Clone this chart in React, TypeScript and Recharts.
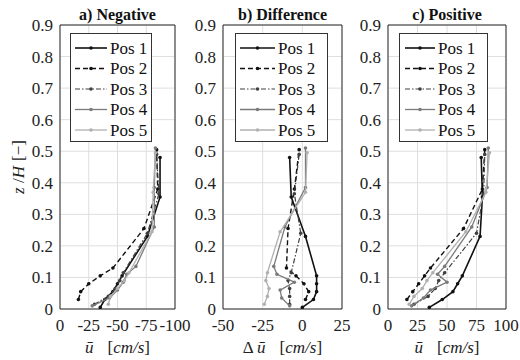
import React from 'react';
import { ScatterChart, Scatter, XAxis, YAxis, CartesianGrid, ReferenceArea, Legend } from 'recharts';

// ---------- data ----------
const seriesNames = ['Pos 1', 'Pos 2', 'Pos 3', 'Pos 4', 'Pos 5'];
const zTicks = [0, 0.1, 0.2, 0.3, 0.4, 0.5, 0.6, 0.7, 0.8, 0.9];
const negTicks = [0, -25, -50, -75, -100];
const diffTicks = [-50, -25, 0, 25];
const posTicks = [0, 25, 50, 75, 100];

const z1 = [0.005, 0.03, 0.055, 0.08, 0.105, 0.23, 0.355, 0.48];
const neg1 = [-35, -39, -46, -50, -54, -76, -87, -87];
const diff1 = [0, 7, 9, 9, 9, 2, -7, -8];
const pos1 = [35, 46, 55, 59, 63, 78, 80, 79];

const z2 = [0.03, 0.055, 0.08, 0.105, 0.13, 0.255, 0.38, 0.505];
const neg2 = [-16, -18, -25, -35, -46, -73, -85, -84];
const diff2 = [2, 4, 1, -4, -10, -9, -5, -2];
const pos2 = [16, 21, 26, 31, 36, 64, 80, 82];

const z3 = [0.015, 0.04, 0.065, 0.09, 0.115, 0.24, 0.365, 0.49];
const neg3 = [-30, -42, -48, -52, -55, -76, -86, -84];
const diff3 = [-8, -8, -8, -9, -7, -1, -5, -2];
const pos3 = [22, 34, 40, 43, 48, 75, 81, 82];

const z4 = [0.01, 0.035, 0.06, 0.085, 0.11, 0.135, 0.26, 0.385, 0.51];
const neg4 = [-28, -43, -50, -55, -58, -66, -82, -82, -83];
const diff4 = [-8, -13, -14, -5, -16, -18, -11, 2, 2];
const pos4 = [20, 30, 36, 50, 42, 48, 71, 84, 85];

const z5 = [0.015, 0.04, 0.065, 0.09, 0.115, 0.245, 0.37, 0.495];
const neg5 = [-42, -44, -50, -56, -60, -80, -81, -83];
const diff5 = [-24, -22, -21, -23, -22, -14, 2, 3];
const pos5 = [18, 22, 29, 33, 38, 66, 83, 86];

const zs = [z1, z2, z3, z4, z5];
const negVals = [neg1, neg2, neg3, neg4, neg5];
const diffVals = [diff1, diff2, diff3, diff4, diff5];
const posVals = [pos1, pos2, pos3, pos4, pos5];

// ---------- styles ----------
const FONT = 'Liberation Serif, Times New Roman, serif';
const STYLES = [
  { color: '#111111', width: 1.6, dash: undefined as string | undefined },
  { color: '#111111', width: 1.4, dash: '5 3' },
  { color: '#404040', width: 1.2, dash: '5 2 1.5 2' },
  { color: '#7a7a7a', width: 1.3, dash: undefined },
  { color: '#b0b0b0', width: 1.3, dash: undefined },
];

const toPts = (z: number[], v: number[]) => z.map((zz, i) => ({ x: v[i], y: zz }));

function LegendBox({ w, s0, s1, tx }: { w: number; s0: number; s1: number; tx: number }) {
  const h = 109;
  return (
    <svg width={w} height={h} style={{ display: 'block', fontFamily: FONT }}>
      <rect x={0.5} y={0.5} width={w - 1} height={h - 1} fill="#fff" stroke="#333" strokeWidth={1} />
      {STYLES.map((s, i) => {
        const y = 15 + i * 20.5;
        return (
          <g key={i}>
            <line x1={s0} x2={s1} y1={y} y2={y} stroke={s.color} strokeWidth={s.width} strokeDasharray={s.dash} />
            <circle cx={(s0 + s1) / 2} cy={y} r={1.8} fill={s.color} />
            <text x={tx} y={y} dy="0.35em" style={{ fontFamily: FONT }} fontSize={17} fill="#111">
              {seriesNames[i]}
            </text>
          </g>
        );
      })}
    </svg>
  );
}

type PanelProps = {
  title: string;
  ticks: number[];
  domain: [number, number];
  reversed?: boolean;
  vals: number[][];
  left: number;
  right: number;
  delta?: boolean;
  yLabel?: boolean;
  legend: { left: number; w: number; s0: number; s1: number; tx: number };
};

const TOP = 25;
const BOTTOM = 309;
const blank = () => '';

function Panel(p: PanelProps) {
  const cx = (p.left + p.right) / 2;
  const xLabel = () => (
    <text x={cx} y={353} textAnchor="middle" style={{ fontFamily: FONT }} fontSize={17} fill="#222">
      {p.delta ? <tspan>Δ </tspan> : null}
      <tspan fontStyle="italic">ū</tspan>
      <tspan dx={14}>[</tspan>
      <tspan fontStyle="italic">cm/s</tspan>
      <tspan>]</tspan>
    </text>
  );
  const yLab = () => {
    const x = 18;
    const y = (TOP + BOTTOM) / 2;
    return (
      <text x={x} y={y} dy="0.35em" textAnchor="middle" transform={`rotate(-90 ${x} ${y})`} style={{ fontFamily: FONT }} fontSize={17} fill="#222">
        <tspan fontStyle="italic">z</tspan>
        <tspan> /</tspan>
        <tspan fontStyle="italic">H</tspan>
        <tspan dx={5}>[−]</tspan>
      </text>
    );
  };
  const tickStyle = { fontFamily: FONT, fontSize: 17, fill: '#222', style: { fontFamily: FONT } };
  const innerTick = { stroke: '#2a2a2a', strokeWidth: 1 };
  return (
    <div style={{ position: 'absolute', left: 0, top: 0 }}>
      <ScatterChart
        width={520}
        height={360}
        margin={{ left: p.left - 40, right: 520 - p.right, top: TOP, bottom: 360 - BOTTOM - 30 }}
      >
        <CartesianGrid stroke="#dedede" strokeWidth={1} />
        <XAxis
          type="number"
          dataKey="x"
          domain={p.domain}
          ticks={p.ticks}
          reversed={p.reversed}
          interval={0}
          allowDataOverflow
          height={30}
          axisLine={false}
          tickLine={false}
          tickSize={6}
          tickMargin={4}
          tick={tickStyle}
          label={{ content: xLabel }}
        />
        <XAxis
          xAxisId="mb"
          type="number"
          domain={p.domain}
          ticks={p.ticks}
          reversed={p.reversed}
          interval={0}
          mirror
          axisLine={false}
          tickLine={innerTick}
          tickSize={3}
          tickFormatter={blank}
        />
        <XAxis
          xAxisId="mt"
          orientation="top"
          type="number"
          domain={p.domain}
          ticks={p.ticks}
          reversed={p.reversed}
          interval={0}
          mirror
          axisLine={false}
          tickLine={innerTick}
          tickSize={3}
          tickFormatter={blank}
        />
        <YAxis
          type="number"
          dataKey="y"
          domain={[0, 0.9]}
          ticks={zTicks}
          interval={0}
          allowDataOverflow
          width={40}
          axisLine={false}
          tickLine={false}
          tickSize={5}
          tickMargin={2}
          tick={tickStyle}
          tickFormatter={(v: number) => (v === 0 ? '0' : v.toFixed(1))}
          label={p.yLabel ? { content: yLab } : undefined}
        />
        <YAxis
          yAxisId="ml"
          type="number"
          domain={[0, 0.9]}
          ticks={zTicks}
          interval={0}
          mirror
          axisLine={false}
          tickLine={innerTick}
          tickSize={3}
          tickFormatter={blank}
        />
        <YAxis
          yAxisId="mr"
          orientation="right"
          type="number"
          domain={[0, 0.9]}
          ticks={zTicks}
          interval={0}
          mirror
          axisLine={false}
          tickLine={innerTick}
          tickSize={3}
          tickFormatter={blank}
        />
        <ReferenceArea
          x1={p.domain[0]}
          x2={p.domain[1]}
          y1={0}
          y2={0.9}
          fill="none"
          fillOpacity={0}
          stroke="#2a2a2a"
          strokeWidth={1}
          ifOverflow="visible"
          label={{ value: p.title, position: 'top', offset: 5, fontFamily: FONT, fontSize: 16, fontWeight: 700, fill: '#111', style: { fontFamily: FONT } }}
        />
        {STYLES.map((s, i) => (
          <Scatter
            key={i}
            name={seriesNames[i]}
            data={toPts(zs[i], p.vals[i])}
            fill={s.color}
            line={{ stroke: s.color, strokeWidth: s.width, strokeDasharray: s.dash }}
            lineType="joint"
            isAnimationActive={false}
            shape={(sp: any) => <circle cx={sp.cx} cy={sp.cy} r={1.8} fill={s.color} />}
          />
        ))}
        <Legend
          layout="vertical"
          align="center"
          verticalAlign="middle"
          wrapperStyle={{ left: p.legend.left, top: 33, width: p.legend.w, height: 109 }}
          content={() => <LegendBox w={p.legend.w} s0={p.legend.s0} s1={p.legend.s1} tx={p.legend.tx} />}
        />
      </ScatterChart>
    </div>
  );
}

export default function App() {
  return (
    <div style={{ position: 'absolute', left: 0, top: 0, width: 520, height: 360, background: '#fff', overflow: 'hidden', fontFamily: FONT }}>
      <Panel
        title="a) Negative"
        ticks={negTicks}
        domain={[-100, 0]}
        reversed
        vals={negVals}
        left={60}
        right={175}
        yLabel
        legend={{ left: 70, w: 82, s0: 5, s1: 37, tx: 40 }}
      />
      <Panel
        title="b) Difference"
        ticks={diffTicks}
        domain={[-50, 25]}
        vals={diffVals}
        left={223}
        right={342}
        delta
        legend={{ left: 235, w: 93, s0: 5, s1: 40, tx: 43 }}
      />
      <Panel
        title="c) Positive"
        ticks={posTicks}
        domain={[0, 100]}
        vals={posVals}
        left={388}
        right={506}
        legend={{ left: 399, w: 89, s0: 6, s1: 36, tx: 39 }}
      />
    </div>
  );
}
